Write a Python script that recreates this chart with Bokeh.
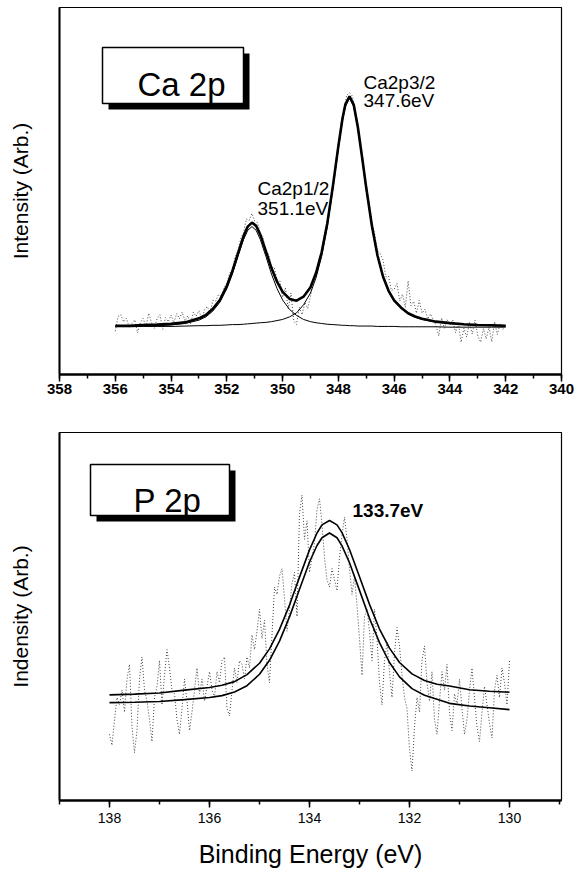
from bokeh.plotting import figure
from bokeh.layouts import column
from bokeh.models import Range1d, SingleIntervalTicker, FixedTicker, Label, BoxAnnotation
from bokeh.embed import file_html
from bokeh.resources import INLINE

FONT = "Liberation Sans"

# ---------------- Ca 2p panel data ----------------
ca_fit_x = [356.0, 355.5, 355.0, 354.5, 354.0, 353.5, 353.0, 352.75, 352.5, 352.25, 352.0,
            351.8, 351.6, 351.4, 351.25, 351.1, 350.95, 350.8, 350.6, 350.4, 350.2, 350.0,
            349.75, 349.5, 349.25, 349.0, 348.8, 348.6, 348.4, 348.2, 348.0, 347.85, 347.75,
            347.6, 347.45, 347.3, 347.15, 347.0, 346.8, 346.6, 346.4, 346.2, 346.0, 345.75,
            345.5, 345.25, 345.0, 344.5, 344.0, 343.5, 343.0, 342.5, 342.0]
ca_comp_p12 = [13.1, 13.1, 13.2, 13.3, 13.5, 13.9, 14.8, 15.7, 17.3, 19.7, 23.4,
               27.4, 32.2, 36.8, 39.3, 40.3, 39.3, 36.8, 32.2, 27.4, 23.4, 20.3,
               17.7, 16.1, 15.0, 14.4, 14.1, 13.9, 13.7, 13.6, 13.5, 13.4, 13.4,
               13.3, 13.3, 13.2, 13.2, 13.2, 13.2, 13.1, 13.1, 13.1, 13.1, 13.0,
               13.0, 13.0, 13.0, 13.0, 12.9, 12.9, 12.9, 12.9, 12.9]
ca_comp_p32 = [13.0, 13.0, 13.1, 13.1, 13.1, 13.2, 13.3, 13.3, 13.4, 13.4, 13.5,
               13.6, 13.6, 13.7, 13.8, 13.9, 14.0, 14.1, 14.2, 14.4, 14.7, 15.0,
               15.7, 16.8, 19.0, 22.2, 26.4, 32.2, 40.2, 50.4, 61.6, 69.3, 73.0,
               75.3, 73.0, 66.9, 58.8, 50.4, 40.2, 32.2, 26.4, 22.5, 19.9, 18.0,
               16.5, 15.6, 15.0, 14.3, 13.9, 13.6, 13.4, 13.3, 13.2]
ca_envelope = [13.3, 13.3, 13.5, 13.6, 13.8, 14.2, 15.3, 16.2, 17.9, 20.3, 24.1,
               28.2, 33.0, 37.7, 40.3, 41.4, 40.5, 38.1, 33.6, 29.0, 25.3, 22.5,
               20.6, 20.1, 21.2, 23.8, 27.7, 33.3, 41.1, 51.2, 62.3, 69.9, 73.6,
               75.8, 73.5, 67.3, 59.2, 50.8, 40.6, 32.5, 26.7, 22.8, 20.2, 18.2,
               16.7, 15.8, 15.2, 14.4, 14.0, 13.7, 13.5, 13.4, 13.3]
ca_raw_start, ca_raw_step = 356.0, 0.1
ca_raw = [11.8, 15.8, 16.3, 14.3, 15.3, 12.8, 13.9, 14.9, 11.4, 14.2,
          15.3, 13.0, 16.7, 14.1, 12.6, 15.2, 16.3, 12.3, 15.5, 14.4,
          16.2, 14.1, 16.6, 15.2, 17.0, 14.6, 16.0, 13.8, 17.0, 15.9,
          17.4, 15.1, 17.6, 18.5, 16.8, 20.2, 20.0, 21.8, 21.3, 23.7,
          24.7, 27.6, 28.7, 32.0, 33.8, 37.1, 38.6, 42.4, 42.0, 43.9,
          41.8, 41.4, 38.5, 37.5, 32.8, 32.8, 29.2, 29.2, 25.8, 25.6,
          21.0, 23.6, 17.9, 22.2, 14.6, 13.6, 18.3, 16.3, 19.6, 18.0,
          21.3, 26.1, 26.5, 31.3, 33.6, 38.4, 41.5, 47.1, 50.7, 57.7,
          62.9, 68.6, 72.2, 76.1, 76.8, 75.9, 72.2, 68.3, 61.5, 57.6,
          51.4, 47.0, 41.6, 38.3, 33.7, 32.9, 31.2, 26.6, 26.8, 22.9,
          23.2, 24.8, 20.0, 21.9, 18.3, 25.5, 18.8, 19.9, 16.7, 20.2,
          16.7, 17.8, 15.1, 16.5, 15.0, 13.4, 10.5, 15.4, 12.6, 14.9,
          13.5, 14.9, 11.4, 14.2, 8.8, 12.6, 10.2, 14.2, 11.0, 14.8,
          10.5, 8.8, 12.5, 9.7, 12.9, 8.9, 14.4, 10.9, 13.9, 12.3,
          13.7]
ca_raw_x = [round(ca_raw_start - ca_raw_step * i, 2) for i in range(len(ca_raw))]

# ---------------- P 2p panel data ----------------
p_fit_x = [138.0, 137.5, 137.0, 136.5, 136.0, 135.75, 135.5, 135.25, 135.0, 134.8, 134.6,
           134.4, 134.2, 134.0, 133.85, 133.75, 133.6, 133.45, 133.35, 133.2, 133.0, 132.8,
           132.6, 132.4, 132.2, 131.95, 131.7, 131.45, 131.2, 130.8, 130.4, 130.0]
p_fit_upper = [28.7, 28.9, 29.2, 30.0, 30.7, 31.3, 32.3, 34.2, 37.3, 41.2, 46.5,
               53.1, 60.7, 68.1, 72.7, 74.9, 76.1, 74.9, 72.8, 68.2, 60.8, 53.3,
               46.6, 41.4, 37.5, 34.4, 32.6, 31.6, 31.1, 30.1, 29.7, 29.4]
p_fit_lower = [26.6, 26.7, 26.9, 27.4, 28.0, 28.5, 29.5, 31.2, 34.3, 38.1, 43.3,
               49.9, 57.4, 64.8, 69.3, 71.4, 72.7, 71.4, 69.2, 64.6, 57.1, 49.5,
               42.9, 37.5, 33.6, 30.4, 28.6, 27.5, 26.4, 25.7, 25.2, 24.7]
p_raw_start, p_raw_step = 138.0, 0.05
p_raw = [18, 15, 22, 28, 26, 30, 24, 33, 37, 20,
         13, 19, 33, 39, 30, 27, 22, 16, 28, 31,
         38, 26, 34, 41, 36, 30, 29, 22, 18, 25,
         33, 27, 19, 24, 30, 36, 29, 33, 27, 31,
         35, 30, 28, 35, 32, 38, 39, 25, 23, 30,
         36, 32, 38, 37, 33, 39, 36, 45, 41, 46,
         52, 44, 49, 37, 32, 45, 58, 56, 61, 63,
         55, 46, 52, 59, 62, 50, 78, 83, 71, 76,
         62, 66, 70, 79, 82, 75, 66, 60, 58, 63,
         60, 57, 66, 72, 77, 71, 63, 56, 61, 53,
         44, 34, 50, 52, 46, 38, 52, 44, 32, 26,
         38, 43, 35, 28, 40, 47, 42, 34, 28, 25,
         14, 8, 20, 28, 24, 38, 42, 32, 27, 35,
         22, 18, 27, 35, 30, 37, 24, 19, 29, 26,
         33, 25, 18, 22, 30, 36, 28, 20, 16, 24,
         31, 26, 21, 17, 30, 34, 28, 36, 32, 26,
         38]
p_raw_x = [round(p_raw_start - p_raw_step * i, 2) for i in range(len(p_raw))]

ca_ticks_interval = 2
p_ticks_interval = 2

# frame geometry (screen px) used to place annotation boxes / labels
FL, FR = 59, 561


def style(p, bold_ticks, tick_size, label_standoff, ylabel):
    p.grid.visible = False
    p.background_fill_color = "white"
    p.border_fill_color = "white"
    p.outline_line_color = "black"
    p.outline_line_width = 1.2
    ax = p.xaxis[0]
    ax.axis_line_width = 2.5
    ax.major_tick_out = 7
    ax.major_tick_in = 0
    ax.minor_tick_out = 4
    ax.minor_tick_in = 0
    ax.major_tick_line_width = 1.5
    ax.minor_tick_line_width = 1.5
    ax.major_label_text_font = FONT
    ax.major_label_text_font_size = tick_size
    ax.major_label_text_font_style = "bold" if bold_ticks else "normal"
    ax.major_label_text_color = "black"
    ax.major_label_standoff = label_standoff
    ay = p.yaxis[0]
    ay.ticker = FixedTicker(ticks=[], minor_ticks=[])
    ay.axis_line_width = 2
    ay.major_label_text_font_size = "0px"
    ay.axis_label = ylabel
    ay.axis_label_text_font = FONT
    ay.axis_label_text_font_size = "21px"
    ay.axis_label_text_font_style = "normal"
    ay.axis_label_text_color = "black"
    ay.axis_label_standoff = 28


def add_box(p, conv_x, conv_y, l, r, t, b, sh):
    p.add_layout(BoxAnnotation(left=conv_x(l + sh), right=conv_x(r + sh), top=conv_y(t + sh),
                               bottom=conv_y(b + sh), fill_color="black", fill_alpha=1, line_alpha=0))
    p.add_layout(BoxAnnotation(left=conv_x(l), right=conv_x(r), top=conv_y(t), bottom=conv_y(b),
                               fill_color="white", fill_alpha=1,
                               line_color="black", line_width=1.5, line_alpha=1))


def add_text(p, x, y, txt, size, style_="normal", align="left"):
    p.add_layout(Label(x=x, y=y, text=txt, text_font=FONT, text_font_size=size,
                       text_font_style=style_, text_align=align, text_baseline="alphabetic",
                       text_color="black"))


# ---------------- top figure ----------------
p1 = figure(width=576, height=405, x_range=Range1d(358, 340), y_range=Range1d(0, 100),
            output_backend="svg", toolbar_location=None,
            min_border_left=FL, min_border_right=576 - FR, min_border_top=7, min_border_bottom=31)
style(p1, True, "15px", 2, "Intensity (Arb.)")
p1.xaxis[0].ticker = SingleIntervalTicker(interval=ca_ticks_interval, num_minor_ticks=2)

p1.line(ca_raw_x, ca_raw, line_color="#444444", line_width=1, line_dash="1 2")
p1.line(ca_fit_x, ca_comp_p12, line_color="black", line_width=1)
p1.line(ca_fit_x, ca_comp_p32, line_color="black", line_width=1)
p1.line(ca_fit_x, ca_envelope, line_color="black", line_width=2.6)


def tx(px):  # top panel pixel -> energy
    return 358 - (px - FL) * 18 / (FR - FL)


def ty(py):
    return (374 - py) / 3.67


add_box(p1, tx, ty, 102, 243, 47, 103, 6)
add_text(p1, tx(181), ty(84), "Ca 2p", "33px", align="center")
for txt, px, py in [("Ca2p3/2", 363, 82), ("347.6eV", 363, 100),
                    ("Ca2p1/2", 257, 188), ("351.1eV", 257, 208)]:
    add_text(p1, tx(px), ty(py), txt, "19px")

# ---------------- bottom figure ----------------
p2 = figure(width=576, height=470, x_range=Range1d(139.0, 128.96), y_range=Range1d(0, 100),
            output_backend="svg", toolbar_location=None,
            min_border_left=FL, min_border_right=576 - FR, min_border_top=27, min_border_bottom=75)
style(p2, False, "14px", 5, "Indensity (Arb.)")
p2.xaxis[0].ticker = SingleIntervalTicker(interval=p_ticks_interval, num_minor_ticks=2)
p2.xaxis[0].axis_label = "Binding Energy (eV)"
p2.xaxis[0].axis_label_text_font = FONT
p2.xaxis[0].axis_label_text_font_size = "25px"
p2.xaxis[0].axis_label_text_font_style = "normal"
p2.xaxis[0].axis_label_text_color = "black"
p2.xaxis[0].axis_label_standoff = 14

p2.line(p_raw_x, p_raw, line_color="#444444", line_width=1, line_dash="1 2")
p2.line(p_fit_x, p_fit_upper, line_color="black", line_width=1.6)
p2.line(p_fit_x, p_fit_lower, line_color="black", line_width=1.6)


def bx(px):
    return 139.0 - (px - FL) * 10.04 / (FR - FL)


def by(py):
    return (800 - py) / 3.68


add_box(p2, bx, by, 90, 229, 464, 515, 6)
add_text(p2, bx(167), by(500), "P 2p", "33px", align="center")
add_text(p2, bx(352), by(510), "133.7eV", "19px", style_="bold")

layout = column(p1, p2, spacing=0)
open("out.html", "w").write(file_html(layout, INLINE))
